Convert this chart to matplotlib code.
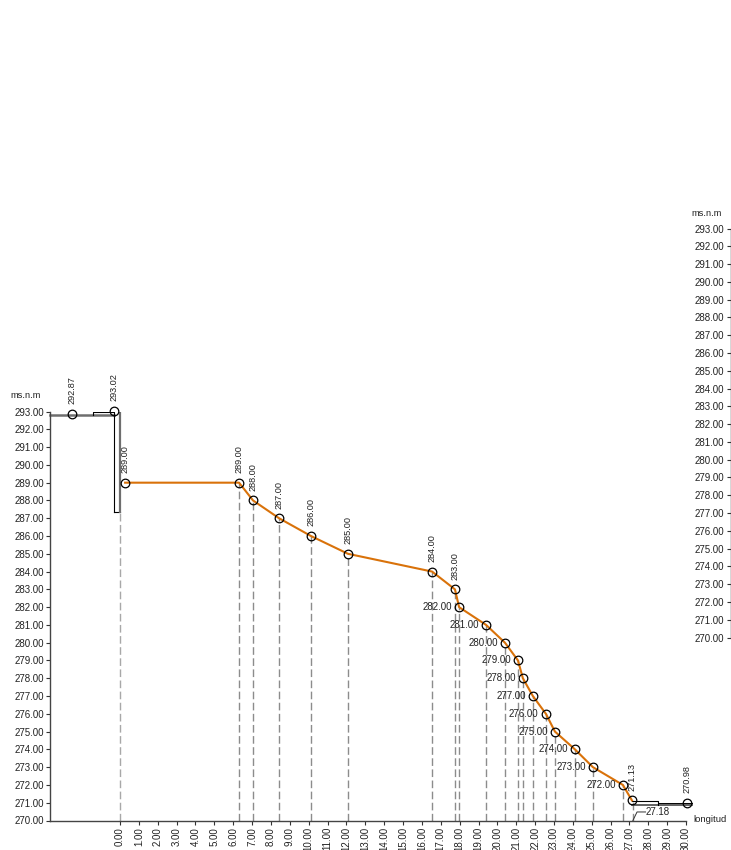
import matplotlib
matplotlib.use("Agg")
import matplotlib.pyplot as plt

plt.rcParams['font.family'] = ['Liberation Sans', 'DejaVu Sans']

W, H = 731, 850
# profile nodes
stations = [-2.54, -0.32, 0.27, 6.31, 7.05, 8.43, 10.12, 12.08, 16.54, 17.75,
            17.97, 19.40, 20.40, 21.09, 21.35, 21.88, 22.57, 23.05, 24.11, 25.06,
            26.65, 27.13, 30.03]
elevations = [292.87, 293.02, 289.00, 289.00, 288.00, 287.00, 286.00, 285.00, 284.00, 283.00,
              282.00, 281.00, 280.00, 279.00, 278.00, 277.00, 276.00, 275.00, 274.00, 273.00,
              272.00, 271.13, 270.98]
drop_stations = [0.00, 6.31, 7.05, 8.43, 10.12, 12.08, 16.54, 17.75, 17.97, 19.40, 20.40,
                 21.09, 21.35, 21.88, 22.57, 23.05, 24.11, 25.06, 26.65, 27.18]
orange_from, orange_to = 2, 21
left_labelled = set(range(10, 21))  # labels written horizontally to the left of the node
x_ticks = list(range(0, 31))
y_ticks = list(range(270, 294))

# scales
px_per_st = 18.87
x0_px = 120.0
px_per_m = 17.78
y270_px = 820.5

fig = plt.figure(figsize=(W / 100, H / 100), dpi=100, facecolor='white')

# main axes: left spine at px 50, top at elevation 293, bottom at elevation 270
ax_left, ax_right = 50, 692
ax = fig.add_axes([ax_left / W, 1 - y270_px / H, (ax_right - ax_left) / W, 23 * px_per_m / H])
ax.set_xlim((ax_left - x0_px) / px_per_st, (ax_right - x0_px) / px_per_st)
ax.set_ylim(270, 293)
ax.patch.set_alpha(0)
for s in ('top', 'right'):
    ax.spines[s].set_visible(False)
for s in ('left', 'bottom'):
    ax.spines[s].set_color('#444444')
    ax.spines[s].set_linewidth(1.0)
ax.spines['bottom'].set_bounds(ax.get_xlim()[0], 30)

TXT = '#222222'
FS = 7.0
ax.set_yticks(y_ticks, [f'{v:.2f}' for v in y_ticks], fontsize=FS, color=TXT)
ax.set_xticks(x_ticks, [f'{v:.2f}' for v in x_ticks], fontsize=FS, color=TXT, rotation=90)
ax.tick_params(axis='y', length=3, width=0.8, color='#333333', pad=1.5)
ax.tick_params(axis='x', length=3, width=0.8, color='#333333', pad=1.5)

ax.annotate('ms.n.m', xy=(ax_left, H - 396), xycoords='figure pixels', fontsize=FS - 0.3,
            color=TXT, ha='right', va='center', xytext=(-6.5, 0), textcoords='offset points')
ax.annotate('longitud', xy=(0, 0), xycoords='axes fraction', fontsize=FS - 0.2, color=TXT,
            xytext=(693, H - 820), textcoords='figure pixels', ha='left', va='center')

# dashed drops
DASH = (0, (5.5, 2.5))
ax.vlines(drop_stations[0], 270, 287.3, colors='#a8a8a8', linestyles=DASH, linewidth=1.0, zorder=1)
for st, el in zip(drop_stations[1:], elevations[3:22]):
    ax.vlines(st, 270, el, colors='#8c8c8c', linestyles=DASH, linewidth=1.0, zorder=1)

# upstream structure
ax.plot([ax.get_xlim()[0], stations[1]], [292.78, 292.78], color='#6e6e6e', lw=1.8, zorder=2, clip_on=False)
ax.plot([-1.43, -1.43, stations[1], stations[1]], [292.78, 293.0, 293.0, 287.33], color='black', lw=0.8, zorder=3)
ax.plot([stations[1], 0.0], [287.33, 287.33], color='black', lw=0.8, zorder=3)
ax.plot([0.0, 0.0], [287.33, 293.0], color='#6e6e6e', lw=1.6, zorder=3)

# downstream structure
ax.plot([stations[21], 30.3], [270.87, 270.87], color='#555555', lw=1.3, zorder=2, clip_on=False)
ax.plot([stations[21], 28.5, 28.5], [271.11, 271.11, 270.87], color='black', lw=0.8, zorder=3)
ax.plot([28.5, 30.3], [271.0, 271.0], color='black', lw=0.7, zorder=3, clip_on=False)

# orange profile
ax.plot(stations[orange_from:orange_to + 1], elevations[orange_from:orange_to + 1],
        color='#d9720a', lw=1.5, zorder=4)

# node markers
ax.plot(stations, elevations, ls='none', marker='o', ms=6.2, mfc='none', mec='black', mew=0.9,
        zorder=5, clip_on=False)

# node labels
for i, (st, el) in enumerate(zip(stations, elevations)):
    if i in left_labelled:
        ax.annotate(f'{el:.2f}', xy=(st, el), xytext=(-5.2, 0), textcoords='offset points',
                    ha='right', va='center', fontsize=FS, color=TXT, zorder=6)
    else:
        ax.annotate(f'{el:.2f}', xy=(st, el), xytext=(0, 7), textcoords='offset points',
                    ha='center', va='bottom', rotation=90, fontsize=FS - 0.4, color=TXT, zorder=6)

# length note
ax.plot([drop_stations[-1], 27.4, 27.85], [270.0, 270.48, 270.48], color='#333333', lw=0.7, zorder=3)
ax.text(27.87, 270.48, '27.18', fontsize=FS, color=TXT, ha='left', va='center')

# right-hand elevation scale
r_x = 730.5
rax = fig.add_axes([r_x / W, 1 - 637.5 / H, 0.0005, 23 * px_per_m / H])
rax.set_ylim(270, 293)
rax.set_xticks([])
for s in ('top', 'right', 'bottom'):
    rax.spines[s].set_visible(False)
rax.spines['left'].set_color('#333333')
rax.spines['left'].set_linewidth(1.0)
rax.set_yticks(y_ticks, [f'{v:.2f}' for v in y_ticks], fontsize=FS, color=TXT)
rax.tick_params(axis='y', length=3, width=0.8, color='#333333', pad=1.5)
rax.annotate('ms.n.m', xy=(r_x, H - 214), xycoords='figure pixels', fontsize=FS - 0.3,
             color=TXT, ha='right', va='center', xytext=(-6, 0), textcoords='offset points')

fig.savefig('out.png', dpi=100, facecolor='white')
